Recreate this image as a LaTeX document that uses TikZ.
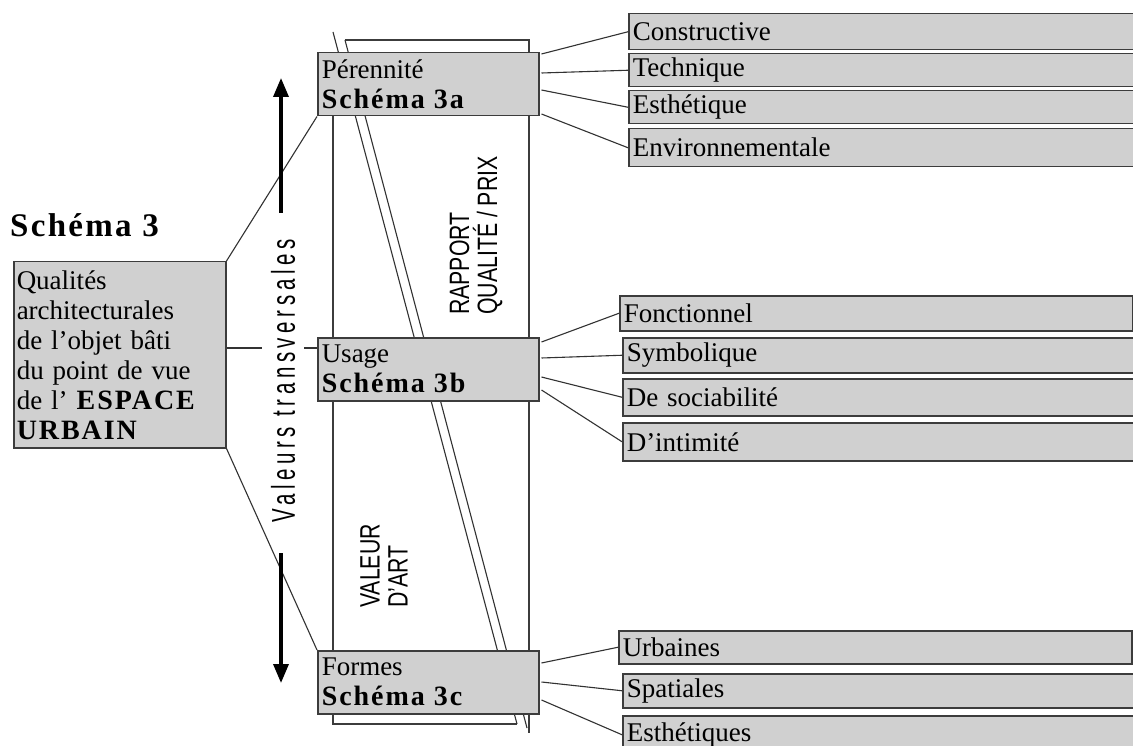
\documentclass[tikz,border=0pt]{standalone}
\usepackage{fontspec}
\setmainfont{Liberation Serif}
\newfontfamily\spbold[LetterSpace=7]{Liberation Serif}
\newfontfamily\narrow[FakeStretch=0.76]{Liberation Sans}
\newfontfamily\narrowsp[FakeStretch=0.62,LetterSpace=14]{Liberation Sans}
\usetikzlibrary{calc,arrows.meta}
\definecolor{boxc}{RGB}{208,208,208}
\definecolor{bordc}{RGB}{60,60,60}
\definecolor{linec}{RGB}{50,50,50}
\begin{document}
\begin{tikzpicture}[x=1pt,y=-1pt,
  box/.style={draw=bordc, line width=1.5pt, fill=boxc, anchor=north west,
    inner xsep=4pt, inner ysep=0pt, align=left,
    font=\fontsize{27}{30}\selectfont},
  rbox/.style={box, text width=505pt, minimum height=#1},
  cbox/.style={box, text width=213pt, minimum height=63pt},
  conn/.style={draw=linec, line width=1.1pt},
  frame/.style={draw=bordc, line width=1.4pt},
  diag/.style={draw=linec, line width=1.1pt},
  bigarrow/.style={draw=black, line width=3.5pt, -{Triangle[width=15pt,length=19pt]}},
  bsp/.style={font=\spbold\bfseries\fontsize{28}{30}\selectfont}
]
\useasboundingbox (0,0) rectangle (1133,746);
\clip (0,0) rectangle (1133,746);
\fill[white] (0,0) rectangle (1133,746);

% folded strip
\draw[frame] (333,60) -- (333,724) -- (517,724);
\draw[frame] (345,40) -- (529,40) -- (529,733);
\draw[diag] (333,32) -- (517,724);
\draw[diag] (345,40) -- (527,728);

% title
\node[anchor=base west, inner sep=0pt, font=\spbold\bfseries\fontsize{33}{33}\selectfont] (title) at (10,237) {Schéma 3};

% main box
\node[box, inner xsep=3pt, text width=206pt, minimum height=186pt] (M) at (13,261)
  {Qualités\\architecturales\\de l’objet bâti\\du point de vue\\de l’ {\spbold\bfseries\fontsize{28}{30}\selectfont ESPACE}\\{\spbold\bfseries\fontsize{28}{30}\selectfont URBAIN}};

% central boxes
\node[cbox] (P) at (317,52) {Pérennité\\{\spbold\bfseries\fontsize{28}{30}\selectfont Schéma 3a}};
\node[cbox] (U) at (317,337) {Usage\\{\spbold\bfseries\fontsize{28}{30}\selectfont Schéma 3b}};
\node[cbox] (F) at (317,650) {Formes\\{\spbold\bfseries\fontsize{28}{30}\selectfont Schéma 3c}};

% right boxes
\node[rbox=36pt] (p1) at (628,13) {Constructive};
\node[rbox=33pt] (p2) at (628,53) {Technique};
\node[rbox=33pt] (p3) at (628,90) {Esthétique};
\node[rbox=38pt] (p4) at (628,128) {Environnementale};

\node[rbox=35pt] (u1) at (619,295) {Fonctionnel};
\node[rbox=35pt] (u2) at (622,337) {Symbolique};
\node[rbox=37pt] (u3) at (622,378) {De sociabilité};
\node[rbox=38pt] (u4) at (622,422) {D’intimité};

\node[rbox=33pt] (f1) at (618,630) {Urbaines};
\node[rbox=34pt] (f2) at (622,673) {Spatiales};
\node[rbox=38pt] (f3) at (622,715) {Esthétiques};

% connectors from central boxes
\draw[conn] ($(P.north east)+(2,2)$) -- (p1.west);
\draw[conn] ($(P.north east)+(2,21)$) -- (p2.west);
\draw[conn] ($(P.north east)+(2,38)$) -- (p3.west);
\draw[conn] ($(P.north east)+(2,62)$) -- (p4.west);

\draw[conn] ($(U.north east)+(2,5)$) -- (u1.west);
\draw[conn] ($(U.north east)+(2,21)$) -- (u2.west);
\draw[conn] ($(U.north east)+(2,40)$) -- (u3.west);
\draw[conn] ($(U.north east)+(2,53)$) -- (u4.west);

\draw[conn] ($(F.north east)+(2,13)$) -- (f1.west);
\draw[conn] ($(F.north east)+(2,32)$) -- (f2.west);
\draw[conn] ($(F.north east)+(2,50)$) -- (f3.west);

% connectors from main box
\draw[conn] (M.north east) -- (P.south west);
\draw[conn] (M.south east) -- (F.north west);
\coordinate (mm) at ($(M.north east)+(0,87)$);
\draw[conn] (mm) -- (U.west |- mm);

% transversal arrows and label
\coordinate (au1) at (281,213);
\coordinate (au2) at (281,78);
\coordinate (ad1) at (281,553);
\coordinate (ad2) at (281,683);
\draw[bigarrow] (au1) -- (au2);
\draw[bigarrow] (ad1) -- (ad2);
\node[rotate=90, fill=white, inner xsep=2pt, inner ysep=9pt,
  font=\narrowsp\fontsize{33}{33}\selectfont] (vt) at (283,381) {Valeurs transversales};

% strip labels
\node[rotate=90, anchor=west, align=left, inner sep=0pt,
  font=\narrow\fontsize{28}{28}\selectfont] (rq) at (476,315) {RAPPORT\\QUALITÉ / PRIX};
\node[rotate=90, anchor=west, align=left, inner sep=0pt,
  font=\narrow\fontsize{28}{28}\selectfont] (va) at (384,608) {VALEUR\\D’ART};
\end{tikzpicture}
\end{document}
